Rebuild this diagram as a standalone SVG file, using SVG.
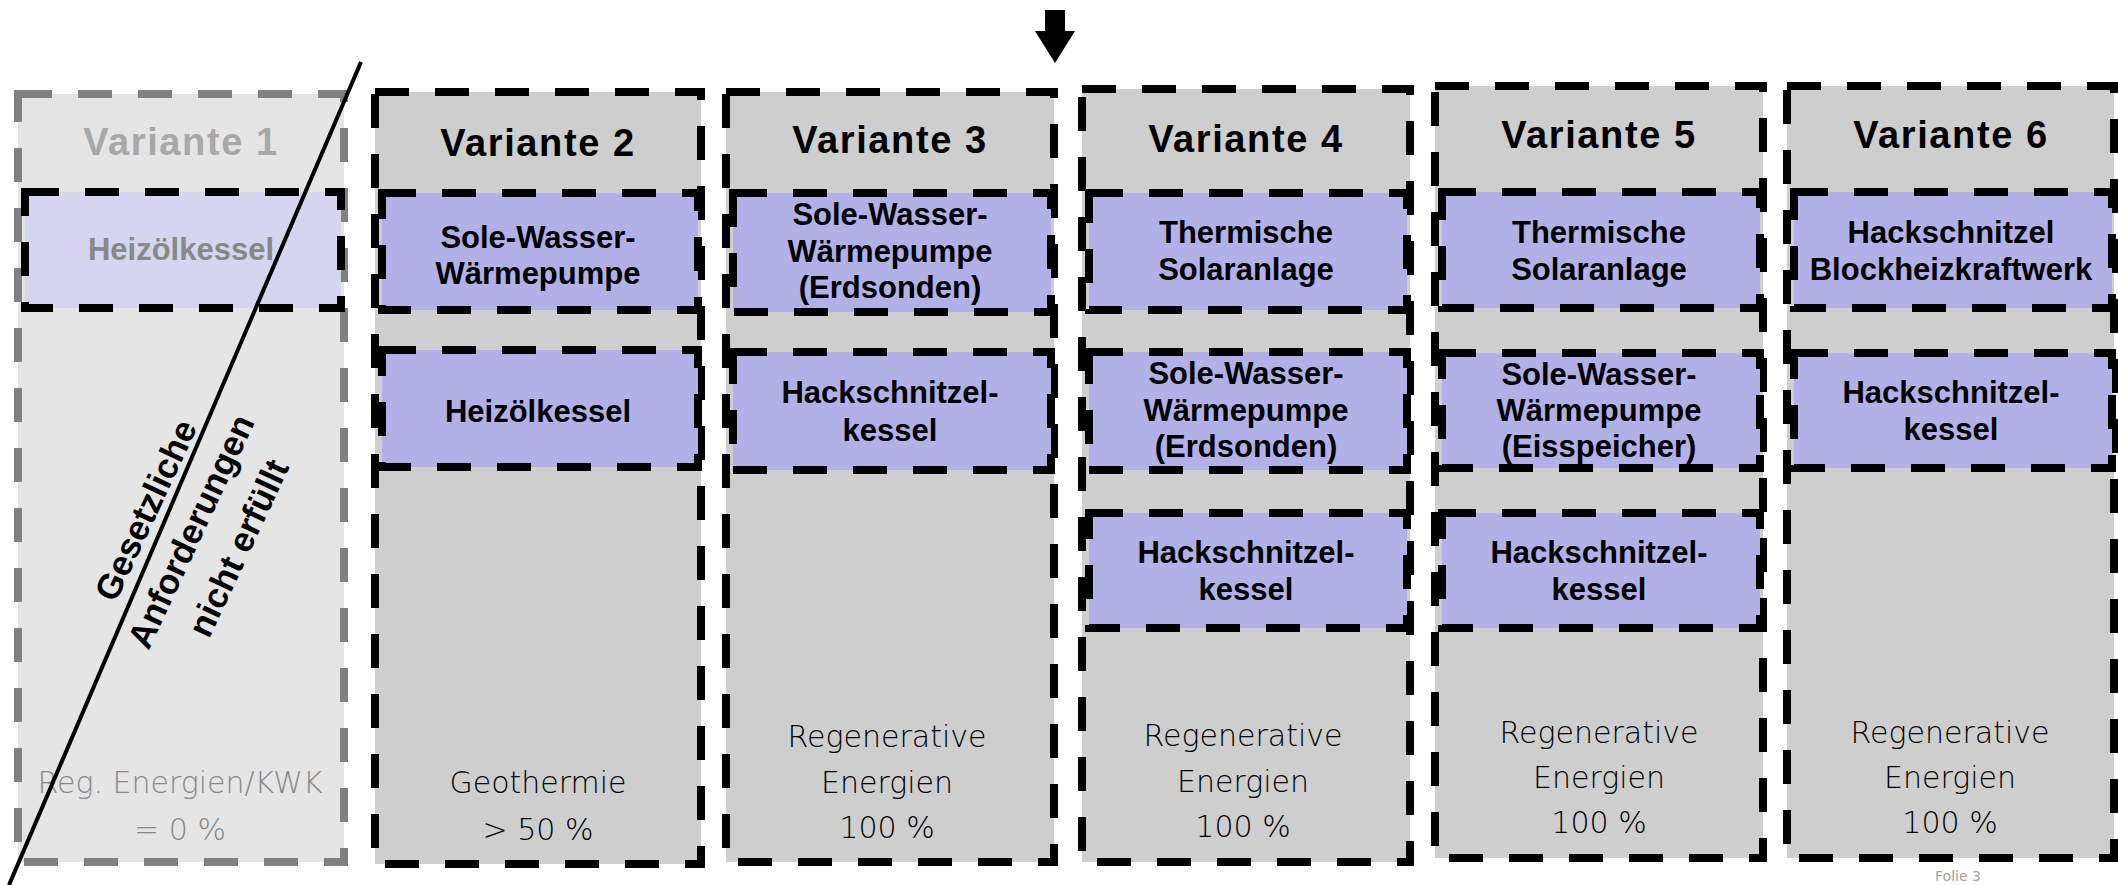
<svg xmlns="http://www.w3.org/2000/svg" width="2118" height="885" viewBox="0 0 2118 885">
<style>
.col{fill:#cecece;stroke:#000;stroke-width:8;stroke-dasharray:34 26}
.col1{fill:#e5e5e5;stroke:#808080;stroke-width:8;stroke-dasharray:34 26}
.box{fill:#b1b1e8;stroke:#000;stroke-width:8;stroke-dasharray:34 26}
.box1{fill:#d5d5ef;stroke:#000;stroke-width:8;stroke-dasharray:34 26}
.title{font-family:"Liberation Sans",Arial,sans-serif;font-weight:bold;font-size:38px;letter-spacing:1.6px;text-anchor:middle;fill:#000}
.lbl{font-family:"Liberation Sans",Arial,sans-serif;font-weight:bold;font-size:31px;text-anchor:middle;fill:#000}
.foot{font-family:"DejaVu Sans",Verdana,sans-serif;font-weight:200;font-size:30px;text-anchor:middle;fill:#000}
.grey1{fill:#a8a8a8}
.grey2{fill:#888888}
</style>
<rect width="2118" height="885" fill="#ffffff"/>

<g id="variante1">
<rect class="col1" x="18" y="94" width="326" height="768"/>
<text class="title grey1" x="181" y="155">Variante 1</text>
<rect class="box1" x="25" y="192" width="316" height="116"/>
<text class="lbl grey2" x="181" y="260">Heizölkessel</text>
<text class="foot grey2" x="180" y="793">Reg. Energien/KWK</text>
<text class="foot grey2" x="180" y="840">= 0 %</text>
</g>

<g id="variante2">
<rect class="col" x="375" y="92" width="326" height="772"/>
<text class="title" x="538" y="156">Variante 2</text>
<rect class="box" x="382" y="193" width="316" height="117"/>
<text class="lbl" x="538" y="248">Sole-Wasser-</text>
<text class="lbl" x="538" y="284">Wärmepumpe</text>
<rect class="box" x="382" y="350" width="316" height="117"/>
<text class="lbl" x="538" y="422">Heizölkessel</text>
<text class="foot" x="538" y="793">Geothermie</text>
<text class="foot" x="538" y="840">&gt; 50 %</text>
</g>

<g id="variante3">
<rect class="col" x="726" y="92" width="328" height="770"/>
<text class="title" x="890" y="153">Variante 3</text>
<rect class="box" x="733" y="193" width="318" height="119"/>
<text class="lbl" x="890" y="225">Sole-Wasser-</text>
<text class="lbl" x="890" y="262">Wärmepumpe</text>
<text class="lbl" x="890" y="298">(Erdsonden)</text>
<rect class="box" x="733" y="352" width="318" height="118"/>
<text class="lbl" x="890" y="403">Hackschnitzel-</text>
<text class="lbl" x="890" y="441">kessel</text>
<text class="foot" x="887" y="747">Regenerative</text>
<text class="foot" x="887" y="793">Energien</text>
<text class="foot" x="887" y="838">100 %</text>
</g>

<g id="variante4">
<rect class="col" x="1082" y="89" width="328" height="773"/>
<text class="title" x="1246" y="152">Variante 4</text>
<rect class="box" x="1089" y="193" width="318" height="117"/>
<text class="lbl" x="1246" y="243">Thermische</text>
<text class="lbl" x="1246" y="280">Solaranlage</text>
<rect class="box" x="1089" y="352" width="318" height="118"/>
<text class="lbl" x="1246" y="384">Sole-Wasser-</text>
<text class="lbl" x="1246" y="421">Wärmepumpe</text>
<text class="lbl" x="1246" y="457">(Erdsonden)</text>
<rect class="box" x="1089" y="513" width="318" height="115"/>
<text class="lbl" x="1246" y="563">Hackschnitzel-</text>
<text class="lbl" x="1246" y="600">kessel</text>
<text class="foot" x="1243" y="746">Regenerative</text>
<text class="foot" x="1243" y="792">Energien</text>
<text class="foot" x="1243" y="837">100 %</text>
</g>

<g id="variante5">
<rect class="col" x="1435" y="86" width="328" height="772"/>
<text class="title" x="1599" y="148">Variante 5</text>
<rect class="box" x="1442" y="192" width="318" height="116"/>
<text class="lbl" x="1599" y="243">Thermische</text>
<text class="lbl" x="1599" y="280">Solaranlage</text>
<rect class="box" x="1442" y="353" width="318" height="115"/>
<text class="lbl" x="1599" y="385">Sole-Wasser-</text>
<text class="lbl" x="1599" y="421">Wärmepumpe</text>
<text class="lbl" x="1599" y="457">(Eisspeicher)</text>
<rect class="box" x="1442" y="513" width="318" height="115"/>
<text class="lbl" x="1599" y="563">Hackschnitzel-</text>
<text class="lbl" x="1599" y="600">kessel</text>
<text class="foot" x="1599" y="743">Regenerative</text>
<text class="foot" x="1599" y="788">Energien</text>
<text class="foot" x="1599" y="833">100 %</text>
</g>

<g id="variante6">
<rect class="col" x="1787" y="86" width="327" height="772"/>
<text class="title" x="1951" y="148">Variante 6</text>
<rect class="box" x="1794" y="192" width="318" height="116"/>
<text class="lbl" x="1951" y="243">Hackschnitzel</text>
<text class="lbl" x="1951" y="280">Blockheizkraftwerk</text>
<rect class="box" x="1794" y="353" width="318" height="115"/>
<text class="lbl" x="1951" y="403">Hackschnitzel-</text>
<text class="lbl" x="1951" y="440">kessel</text>
<text class="foot" x="1950" y="743">Regenerative</text>
<text class="foot" x="1950" y="788">Energien</text>
<text class="foot" x="1950" y="833">100 %</text>
</g>

<g id="connectors">
<line x1="361" y1="62" x2="9" y2="885" stroke="#000" stroke-width="4"/>
<polygon points="1045,10 1065,10 1065,31 1075,31 1055,63 1035,31 1045,31" fill="#000"/>
</g>

<g id="hinweis">
<text transform="translate(204,532) rotate(-65)" font-family="Liberation Sans, Arial, sans-serif" font-weight="bold" font-size="35" text-anchor="middle" fill="#000">
<tspan x="0" y="-50">Gesetzliche</tspan>
<tspan x="0" y="0">Anforderungen</tspan>
<tspan x="0" y="50">nicht erfüllt</tspan>
</text>
</g>

<text x="1958" y="881" font-family="DejaVu Sans, sans-serif" font-size="14" fill="#a0a0a0" text-anchor="middle">Folie 3</text>
</svg>
